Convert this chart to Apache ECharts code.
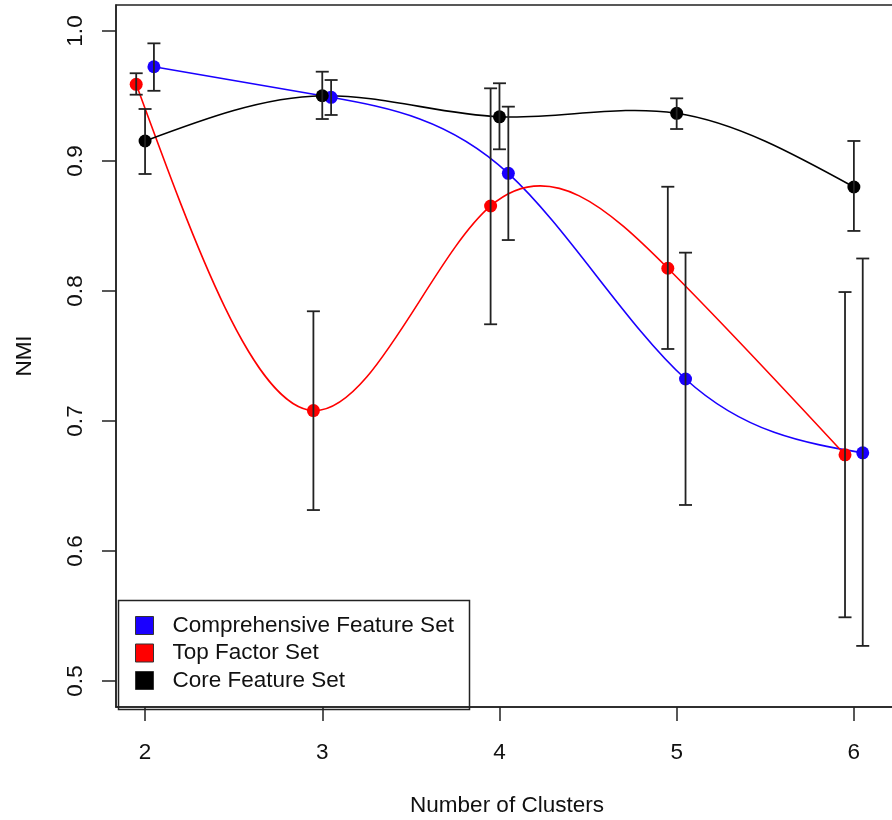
<!DOCTYPE html>
<html>
<head>
<meta charset="utf-8">
<script src="https://cdn.jsdelivr.net/npm/echarts@6/dist/echarts.min.js"></script>
<style>
html,body{margin:0;padding:0;background:#fff;}
#chart{width:892px;height:820px;}
</style>
</head>
<body>
<div id="chart"></div>
<script>
// ---- data ----
const clusters = [2, 3, 4, 5, 6];
const xTicks = [2, 3, 4, 5, 6];
const yTicks = [0.5, 0.6, 0.7, 0.8, 0.9, 1.0];

const compName = 'Comprehensive Feature Set';
const compMean = [0.9725, 0.949, 0.8905, 0.7323, 0.6755];
const compLow  = [0.954, 0.9354, 0.8392, 0.6354, 0.527];
const compHigh = [0.9905, 0.9623, 0.9418, 0.8295, 0.825];

const topName = 'Top Factor Set';
const topMean = [0.959, 0.708, 0.8654, 0.8175, 0.674];
const topLow  = [0.951, 0.6315, 0.7744, 0.7554, 0.549];
const topHigh = [0.9675, 0.7844, 0.9559, 0.8802, 0.7992];

const coreName = 'Core Feature Set';
const coreMean = [0.9154, 0.9502, 0.934, 0.9367, 0.880];
const coreLow  = [0.890, 0.9323, 0.909, 0.9246, 0.8462];
const coreHigh = [0.940, 0.9687, 0.9598, 0.9482, 0.9154];

// ---- styling / layout ----
const FONT = '"Liberation Sans", Arial, Helvetica, sans-serif';
const groups = [
  {name: compName, mean: compMean, low: compLow, high: compHigh, color: '#1a00ff', dx: 0.05},
  {name: topName,  mean: topMean,  low: topLow,  high: topHigh,  color: '#ff0000', dx: -0.05},
  {name: coreName, mean: coreMean, low: coreLow, high: coreHigh, color: '#000000', dx: 0}
];

// natural cubic spline slopes (smooth curve through the plotted points)
function splineSlopes(xs, ys) {
  const n = xs.length;
  const h = [];
  for (let i = 0; i < n - 1; i++) h.push(xs[i + 1] - xs[i]);
  const M = new Array(n).fill(0);
  if (n > 2) {
    const a = [], b = [], c = [], d = [];
    for (let i = 1; i < n - 1; i++) {
      a.push(h[i - 1]); b.push(2 * (h[i - 1] + h[i])); c.push(h[i]);
      d.push(6 * ((ys[i + 1] - ys[i]) / h[i] - (ys[i] - ys[i - 1]) / h[i - 1]));
    }
    const m = b.length;
    for (let i = 1; i < m; i++) {
      const w = a[i] / b[i - 1];
      b[i] -= w * c[i - 1];
      d[i] -= w * d[i - 1];
    }
    const sol = new Array(m);
    sol[m - 1] = d[m - 1] / b[m - 1];
    for (let i = m - 2; i >= 0; i--) sol[i] = (d[i] - c[i] * sol[i + 1]) / b[i];
    for (let i = 0; i < m; i++) M[i + 1] = sol[i];
  }
  const segs = [];
  for (let i = 0; i < n - 1; i++) {
    const s = (ys[i + 1] - ys[i]) / h[i];
    segs.push({
      d0: s - h[i] * (2 * M[i] + M[i + 1]) / 6,
      d1: s + h[i] * (M[i] + 2 * M[i + 1]) / 6
    });
  }
  return segs;
}

const series = [];
groups.forEach(g => {
  const xs = clusters.map(c => c + g.dx);
  const segs = splineSlopes(xs, g.mean);
  series.push({
    type: 'custom',
    name: g.name + ' curve',
    data: clusters.slice(0, -1).map((c, i) => [xs[i], g.mean[i], xs[i + 1], g.mean[i + 1]]),
    renderItem: function (params, api) {
      const i = params.dataIndex;
      const x0 = api.value(0), y0 = api.value(1), x1 = api.value(2), y1 = api.value(3);
      const hh = (x1 - x0) / 3;
      const p0 = api.coord([x0, y0]);
      const p1 = api.coord([x1, y1]);
      const c0 = api.coord([x0 + hh, y0 + segs[i].d0 * hh]);
      const c1 = api.coord([x1 - hh, y1 - segs[i].d1 * hh]);
      return {
        type: 'bezierCurve',
        shape: {x1: p0[0], y1: p0[1], x2: p1[0], y2: p1[1],
                cpx1: c0[0], cpy1: c0[1], cpx2: c1[0], cpy2: c1[1]},
        style: {stroke: g.color, lineWidth: 1.6, fill: 'none'}
      };
    },
    z: 1,
    silent: true
  });
});
groups.forEach(g => {
  series.push({
    name: g.name,
    type: 'scatter',
    symbol: 'circle',
    symbolSize: 13,
    data: clusters.map((c, i) => [c + g.dx, g.mean[i]]),
    itemStyle: {color: g.color, borderWidth: 0, opacity: 1},
    z: 2
  });
});
groups.forEach(g => {
  series.push({
    type: 'custom',
    name: g.name + ' err',
    data: clusters.map((c, i) => [c + g.dx, g.low[i], g.high[i]]),
    renderItem: function (params, api) {
      const x = api.value(0);
      const pHi = api.coord([x, api.value(2)]);
      const pLo = api.coord([x, api.value(1)]);
      const w = 6.5;
      const st = {stroke: '#222', lineWidth: 1.8};
      return {
        type: 'group',
        children: [
          {type: 'line', shape: {x1: pHi[0], y1: pHi[1], x2: pLo[0], y2: pLo[1]}, style: st},
          {type: 'line', shape: {x1: pHi[0] - w, y1: pHi[1], x2: pHi[0] + w, y2: pHi[1]}, style: st},
          {type: 'line', shape: {x1: pLo[0] - w, y1: pLo[1], x2: pLo[0] + w, y2: pLo[1]}, style: st}
        ]
      };
    },
    z: 5,
    silent: true
  });
});

const chart = echarts.init(document.getElementById('chart'), null, {renderer: 'canvas'});
chart.setOption({
  animation: false,
  backgroundColor: '#ffffff',
  grid: {
    left: 116, top: 5, width: 782, height: 702,
    show: true, borderColor: '#222', borderWidth: 1.5, backgroundColor: 'transparent',
    containLabel: false,
    outerBoundsMode: 'none'
  },
  xAxis: {
    type: 'value',
    min: 1.836, max: 6.249,
    name: 'Number of Clusters',
    nameLocation: 'middle',
    nameGap: 87,
    nameTextStyle: {fontFamily: FONT, fontSize: 22.5, color: '#111'},
    axisLine: {show: true, onZero: false, lineStyle: {color: '#222', width: 1.5}},
    axisTick: {show: true, length: 14, lineStyle: {color: '#222', width: 1.5}, customValues: xTicks},
    axisLabel: {show: true, fontFamily: FONT, fontSize: 22.5, color: '#111', margin: 34, customValues: xTicks,
      formatter: v => String(v)},
    splitLine: {show: false}
  },
  yAxis: {
    type: 'value',
    min: 0.48, max: 1.02,
    name: 'NMI',
    nameLocation: 'middle',
    nameGap: 80,
    nameRotate: 90,
    nameTextStyle: {fontFamily: FONT, fontSize: 22.5, color: '#111'},
    axisLine: {show: true, onZero: false, lineStyle: {color: '#222', width: 1.5}},
    axisTick: {show: true, length: 14, lineStyle: {color: '#222', width: 1.5}, customValues: yTicks},
    axisLabel: {show: true, fontFamily: FONT, fontSize: 22.5, color: '#111', margin: 29, rotate: 90,
      customValues: yTicks, formatter: v => v.toFixed(1)},
    splitLine: {show: false}
  },
  legend: {
    show: true,
    orient: 'vertical',
    left: 135, top: 614,
    itemWidth: 18, itemHeight: 18, itemGap: 4.5,
    padding: 0,
    selectedMode: false,
    textStyle: {fontFamily: FONT, fontSize: 22.5, color: '#111', padding: [0, 0, 0, 14]},
    data: groups.map(g => ({name: g.name, icon: 'rect',
      itemStyle: {color: g.color, borderColor: '#333', borderWidth: 1}}))
  },
  graphic: [{
    type: 'rect', left: 116, top: 598, z: 10,
    shape: {width: 351, height: 109},
    style: {fill: 'none', stroke: '#222', lineWidth: 1.5}
  }],
  series: series
});
</script>
</body>
</html>
